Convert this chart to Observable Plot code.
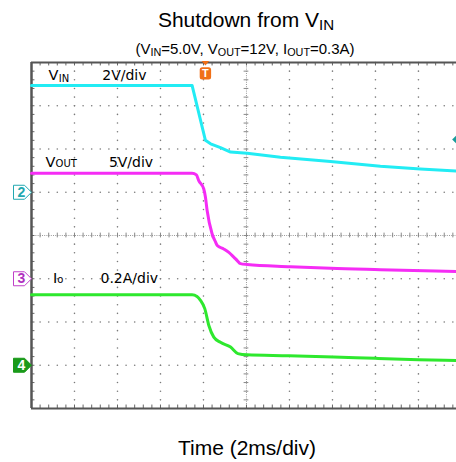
<!DOCTYPE html>
<html><head><meta charset="utf-8">
<script src="https://cdn.jsdelivr.net/npm/d3@7"></script>
<script src="https://cdn.jsdelivr.net/npm/@observablehq/plot@0.6"></script>
<style>
html,body{margin:0;padding:0;background:#fff;overflow:hidden;}
#wrap{position:relative;width:456px;height:462px;overflow:hidden;background:#fff;}
#chart{position:absolute;left:0;top:0;}
.t{position:absolute;white-space:nowrap;transform:translateX(-50%);font-family:"Liberation Sans",Arial,sans-serif;color:#000;}
.t sub{font-size:0.72em;vertical-align:baseline;position:relative;top:0.22em;}
</style></head><body>
<div id="wrap">
<div id="chart"></div>
<div class="t" style="left:246px;top:9px;font-size:21px;line-height:21px">Shutdown from V<sub>IN</sub></div>
<div class="t" style="left:245px;top:41px;font-size:15px;line-height:15px">(V<sub>IN</sub>=5.0V, V<sub>OUT</sub>=12V, I<sub>OUT</sub>=0.3A)</div>
<div class="t" style="left:247px;top:437px;font-size:21px;line-height:21px">Time (2ms/div)</div>
</div>
<script>
// time in ms (2 ms/div), level in screen divisions (0 = bottom, 8 = top)
const vinTime  = [0, 7.47, 8.09, 8.33, 8.79, 9.26, 10.03, 11.58, 13.91, 16.23, 18.09, 19.77];
const vinLevel = [7.47, 7.47, 6.20, 6.12, 6.03, 5.93, 5.90, 5.81, 5.71, 5.60, 5.54, 5.49];

const voutTime  = [0, 7.47, 7.67, 7.78, 8.01, 8.09, 8.17, 8.40, 8.56, 8.64, 8.94, 9.18, 9.41, 9.57, 9.72, 10.03, 12.05, 13.91, 16.23, 19.77];
const voutLevel = [5.44, 5.44, 5.40, 5.27, 5.08, 4.89, 4.58, 4.04, 3.85, 3.77, 3.69, 3.61, 3.50, 3.42, 3.35, 3.33, 3.28, 3.24, 3.21, 3.17];

const ioTime  = [0, 7.47, 7.70, 7.86, 8.06, 8.25, 8.48, 8.79, 9.26, 9.60, 10.03, 11.97, 14.06, 16.00, 18.01, 19.77];
const ioLevel = [2.63, 2.63, 2.59, 2.50, 2.31, 1.92, 1.65, 1.53, 1.42, 1.27, 1.24, 1.22, 1.19, 1.16, 1.13, 1.11];

const channelIds = ["2", "3", "4"];
const channelLevels = [5, 3, 1];
const triggerTime = 8.09;
const triggerLevel = 6.22;

const xDomain = [0, 19.77];
const yDomain = [0, 8];
const majorX = d3.range(0, 20.01, 2);
const majorY = d3.range(0, 8.01, 1);
const minorX = d3.range(0, 19.8, 0.4);
const minorY = d3.range(0, 8.001, 0.2).map(v => +v.toFixed(2));

const toPts = (t, v) => t.map((d, i) => ({t: d, v: v[i]}));
const vin = toPts(vinTime, vinLevel);
const vout = toPts(voutTime, voutLevel);
const io = toPts(ioTime, ioLevel);

const hDots = [];
majorY.filter(y => y > 0 && y < 8 && y !== 4).forEach(y => minorX.forEach(x => hDots.push({x, y})));
const vDots = [];
majorX.filter(x => x > 0 && x < 20 && x !== 10).forEach(x => minorY.forEach(y => vDots.push({x, y})));

const chanShape = {draw(c) { c.moveTo(-18, -7); c.lineTo(-7, -7); c.lineTo(0, 0); c.lineTo(-7, 7); c.lineTo(-18, 7); c.closePath(); }};
const trigTri = {draw(c) { c.moveTo(-3.8, -1.5); c.lineTo(3.8, -1.5); c.lineTo(0, 3); c.closePath(); }};
const trigBox = {draw(c) {
  const x0 = -5.7, x1 = 5.7, y0 = 4.7, y1 = 17, r = 2.5;
  c.moveTo(x0 + r, y0); c.lineTo(x1 - r, y0); c.arcTo(x1, y0, x1, y0 + r, r);
  c.lineTo(x1, y1 - r); c.arcTo(x1, y1, x1 - r, y1, r); c.lineTo(x0 + r, y1);
  c.arcTo(x0, y1, x0, y1 - r, r); c.lineTo(x0, y0 + r); c.arcTo(x0, y0, x0 + r, y0, r); c.closePath();
}};
const diamond = {draw(c) { c.moveTo(0, -5); c.lineTo(5, 0); c.lineTo(0, 5); c.lineTo(-5, 0); c.closePath(); }};

const lblFont = "DejaVu Sans";
const chanStyle = [
  {fill: "#fff", stroke: "#22a8b0", text: "#22a8b0"},
  {fill: "#fff", stroke: "#c040c8", text: "#b030c0"},
  {fill: "#1a9a1a", stroke: "#1a9a1a", text: "#fff"}
];

const marks = [
  Plot.dot(hDots, {x: "x", y: "y", r: 0.8, fill: "#7a7a7a"}),
  Plot.dot(vDots, {x: "x", y: "y", r: 0.8, fill: "#7a7a7a"}),
  Plot.ruleY([4], {stroke: "#9a9a9a", strokeDasharray: "1 1.2"}),
  Plot.ruleX([10], {stroke: "#9a9a9a", strokeDasharray: "1 1.2"}),
  Plot.ruleX(minorX, {x: d => d, y1: () => 4 - 0.055, y2: () => 4 + 0.055, stroke: "#888"}),
  Plot.ruleY(minorY, {y: d => d, x1: () => 10 - 0.11, x2: () => 10 + 0.11, stroke: "#888"}),
  Plot.ruleX(minorX, {x: d => d, y1: () => 8, y2: () => 8 - 0.08, stroke: "#666"}),
  Plot.ruleX(minorX, {x: d => d, y1: () => 0, y2: () => 0.08, stroke: "#666"}),
  Plot.ruleY(minorY, {y: d => d, x1: () => 0, x2: () => 0.16, stroke: "#666"}),
  Plot.ruleY([0, 8], {stroke: "#555", strokeWidth: 2}),
  Plot.ruleX([0], {stroke: "#555", strokeWidth: 2.5}),
  Plot.line(vin, {x: "t", y: "v", stroke: "#22ecf4", strokeWidth: 3}),
  Plot.line(vout, {x: "t", y: "v", stroke: "#f52cf5", strokeWidth: 3, curve: "monotone-x"}),
  Plot.line(io, {x: "t", y: "v", stroke: "#2ee82e", strokeWidth: 3, curve: "monotone-x"}),
  // scope labels
  Plot.text(["V"], {x: () => 0.79, y: () => 7.595, text: d => d, fontSize: 14.5, fontFamily: lblFont, textAnchor: "start", lineAnchor: "bottom"}),
  Plot.text(["IN"], {x: () => 1.27, y: () => 7.55, text: d => d, fontSize: 10, fontFamily: lblFont, textAnchor: "start", lineAnchor: "bottom"}),
  Plot.text(["2V/div"], {x: () => 3.29, y: () => 7.595, text: d => d, fontSize: 14, fontFamily: lblFont, textAnchor: "start", lineAnchor: "bottom"}),
  Plot.text(["V"], {x: () => 0.65, y: () => 5.595, text: d => d, fontSize: 14.5, fontFamily: lblFont, textAnchor: "start", lineAnchor: "bottom"}),
  Plot.text(["OUT"], {x: () => 1.12, y: () => 5.595, text: d => d, fontSize: 10, fontFamily: lblFont, textAnchor: "start", lineAnchor: "bottom"}),
  Plot.text(["5V/div"], {x: () => 3.60, y: () => 5.595, text: d => d, fontSize: 14, fontFamily: lblFont, textAnchor: "start", lineAnchor: "bottom"}),
  Plot.text(["I"], {x: () => 1.0, y: () => 2.897, text: d => d, fontSize: 14.5, fontFamily: lblFont, textAnchor: "start", lineAnchor: "bottom"}),
  Plot.text(["o"], {x: () => 1.2, y: () => 2.897, text: d => d, fontSize: 10, fontFamily: lblFont, textAnchor: "start", lineAnchor: "bottom"}),
  Plot.text(["0.2A/div"], {x: () => 3.21, y: () => 2.897, text: d => d, fontSize: 14, fontFamily: lblFont, textAnchor: "start", lineAnchor: "bottom"}),
  // trigger
  Plot.dot([triggerTime], {x: d => d, y: () => 8, symbol: trigTri, fill: "#f07018", stroke: "none"}),
  Plot.dot([triggerTime], {x: d => d, y: () => 8, symbol: trigBox, fill: "#f07018", stroke: "none"}),
  Plot.text(["T"], {x: () => triggerTime, y: () => 8, dy: 11, text: d => d, fill: "#fff", fontWeight: "bold", fontSize: 11, fontFamily: "Liberation Sans"}),
  Plot.dot([triggerLevel], {x: () => 19.8, y: d => d, symbol: diamond, fill: "#189c9c", stroke: "none"})
];
channelIds.forEach((id, i) => {
  const s = chanStyle[i];
  marks.push(Plot.dot([channelLevels[i]], {x: () => 0, y: d => d, symbol: chanShape, fill: s.fill, stroke: s.stroke, strokeWidth: 1}));
  marks.push(Plot.text([id], {x: () => 0, y: () => channelLevels[i], dx: -10, text: d => d, fill: s.text, fontWeight: "bold", fontSize: 14, fontFamily: "Liberation Sans"}));
});

const chart = Plot.plot({
  width: 456, height: 462,
  marginTop: 62, marginBottom: 54, marginLeft: 31, marginRight: 0,
  x: {domain: xDomain, axis: null},
  y: {domain: yDomain, axis: null},
  style: {background: "transparent", fontFamily: "Liberation Sans, Arial, sans-serif", overflow: "visible"},
  marks
});
document.getElementById("chart").appendChild(chart);
</script>
</body></html>
